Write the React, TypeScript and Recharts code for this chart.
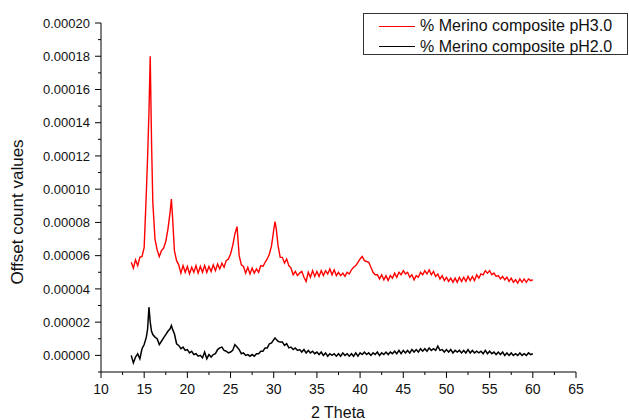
import React from 'react';
import { LineChart, Line, XAxis, YAxis } from 'recharts';

// values are in units of 1e-5 (offset counts)
const UNIT = 1e-5;

const twoTheta = [
  13.5, 13.75,
  14, 14.25, 14.5, 14.75,
  15, 15.25, 15.4, 15.55, 15.7, 15.85,
  16, 16.25, 16.5, 16.75,
  17, 17.25, 17.5, 17.75,
  18, 18.15, 18.3, 18.5, 18.75,
  19, 19.25, 19.5, 19.75,
  20, 20.25, 20.5, 20.75,
  21, 21.25, 21.5, 21.75,
  22, 22.25, 22.5, 22.75,
  23, 23.25, 23.5, 23.75,
  24, 24.25, 24.5, 24.75,
  25, 25.25, 25.5, 25.75,
  26, 26.25, 26.5, 26.75,
  27, 27.25, 27.5, 27.75,
  28, 28.25, 28.5, 28.75,
  29, 29.25, 29.5, 29.75,
  30, 30.15, 30.3, 30.5, 30.75,
  31, 31.25, 31.5, 31.75,
  32, 32.25, 32.5, 32.75,
  33, 33.25, 33.5, 33.75,
  34, 34.25, 34.5, 34.75,
  35, 35.25, 35.5, 35.75,
  36, 36.25, 36.5, 36.75,
  37, 37.25, 37.5, 37.75,
  38, 38.25, 38.5, 38.75,
  39, 39.25, 39.5, 39.75,
  40, 40.25, 40.5, 40.75,
  41, 41.25, 41.5, 41.75,
  42, 42.25, 42.5, 42.75,
  43, 43.25, 43.5, 43.75,
  44, 44.25, 44.5, 44.75,
  45, 45.25, 45.5, 45.75,
  46, 46.25, 46.5, 46.75,
  47, 47.25, 47.5, 47.75,
  48, 48.25, 48.5, 48.75,
  49, 49.25, 49.5, 49.75,
  50, 50.25, 50.5, 50.75,
  51, 51.25, 51.5, 51.75,
  52, 52.25, 52.5, 52.75,
  53, 53.25, 53.5, 53.75,
  54, 54.25, 54.5, 54.75,
  55, 55.25, 55.5, 55.75,
  56, 56.25, 56.5, 56.75,
  57, 57.25, 57.5, 57.75,
  58, 58.25, 58.5, 58.75,
  59, 59.25, 59.5, 59.75,
  60,
];

const merinoPH30 = [
  5.6, 5.25,
  5.75, 5.4, 5.9, 5.95,
  6.5, 9.8, 12.0, 14.6, 18.0, 12.9,
  9.2, 7.0, 6.35, 5.95,
  6.3, 6.45, 6.85, 7.6,
  8.6, 9.4, 8.2, 6.3, 5.7,
  5.45, 4.95, 5.4, 5.0,
  5.35, 4.9, 5.3, 5.0,
  5.4, 4.95, 5.35, 5.0,
  5.4, 5.0, 5.35, 5.05,
  5.45, 5.1, 5.5, 5.2,
  5.55, 5.3, 5.7, 5.8,
  6.1, 6.6, 7.3, 7.75,
  6.0, 5.45, 5.35, 4.95,
  5.3, 4.9, 5.25, 4.95,
  5.2, 5.0, 5.4, 5.35,
  5.6, 5.8, 6.1, 6.6,
  7.55, 8.05, 7.6, 6.6, 5.9,
  5.9, 5.55, 5.8, 5.4,
  5.25, 4.85, 5.05, 4.8,
  4.95, 5.05, 4.7, 4.45,
  5.0, 4.7, 5.1, 4.75,
  5.05, 4.75, 5.1, 4.8,
  5.1, 4.9, 5.2, 4.85,
  5.15, 4.8, 5.0, 4.8,
  4.95, 4.75, 5.0, 4.9,
  5.15, 5.3, 5.4, 5.6,
  5.8, 5.95, 5.7, 5.65,
  5.6, 5.3, 5.0, 4.85,
  4.85, 4.6, 4.85, 4.55,
  4.8, 4.5, 4.8, 4.65,
  4.95, 4.7, 5.0, 4.85,
  5.1, 4.9, 5.0, 4.7,
  4.85, 4.55, 4.8, 4.7,
  5.0, 4.85, 5.1, 4.9,
  5.15, 4.85, 5.05, 4.75,
  4.9, 4.6, 4.8, 4.5,
  4.7, 4.45, 4.65, 4.4,
  4.65, 4.4, 4.7, 4.45,
  4.7, 4.45, 4.75, 4.5,
  4.75, 4.5, 4.85, 4.65,
  4.9, 4.85, 5.1, 4.95,
  5.1, 4.85, 4.95, 4.75,
  4.8, 4.6, 4.75, 4.55,
  4.7, 4.45, 4.65, 4.4,
  4.55, 4.35, 4.6, 4.4,
  4.6, 4.4, 4.6, 4.5,
  4.55,
];

const merinoPH20 = [
  0.0, -0.45,
  -0.1, 0.1, -0.2, 0.4,
  0.65, 1.1, 1.6, 2.9, 2.0, 1.45,
  1.25, 1.1, 1.0, 0.65,
  0.85, 1.05, 1.25, 1.45,
  1.6, 1.8, 1.55, 1.3, 0.7,
  0.6, 0.4, 0.5, 0.3,
  0.35, 0.15, 0.25, 0.05,
  0.1, -0.05, 0.0, -0.15,
  0.2, -0.2, 0.05, -0.1,
  0.05, 0.1, 0.35, 0.45,
  0.5, 0.3, 0.25, 0.15,
  0.2, 0.3, 0.65, 0.5,
  0.35, 0.1, 0.15, 0.0,
  0.05, -0.05, 0.05, -0.05,
  0.1, 0.1, 0.25, 0.25,
  0.45, 0.45, 0.7, 0.75,
  0.95, 1.05, 0.95, 0.85, 0.8,
  0.8, 0.6, 0.7, 0.45,
  0.5, 0.35, 0.45, 0.3,
  0.35, 0.2, 0.35, 0.15,
  0.3, 0.15, 0.25, 0.1,
  0.2, 0.05, 0.2, 0.0,
  0.15, -0.05, 0.1, 0.0,
  0.1, -0.05, 0.1, -0.05,
  0.15, 0.0, 0.1, -0.05,
  0.1, -0.05, 0.15, -0.05,
  0.15, 0.05, 0.2, 0.05,
  0.15, 0.0, 0.15, 0.05,
  0.2, 0.0, 0.15, 0.05,
  0.2, 0.05, 0.2, 0.1,
  0.25, 0.1, 0.3, 0.1,
  0.3, 0.15, 0.3, 0.15,
  0.35, 0.2, 0.35, 0.2,
  0.4, 0.25, 0.4, 0.25,
  0.45, 0.3, 0.4, 0.3,
  0.55, 0.3, 0.35, 0.2,
  0.35, 0.2, 0.35, 0.15,
  0.3, 0.2, 0.3, 0.15,
  0.3, 0.15, 0.35, 0.15,
  0.3, 0.15, 0.25, 0.15,
  0.25, 0.1, 0.3, 0.1,
  0.25, 0.1, 0.2, 0.05,
  0.2, 0.05, 0.2, 0.0,
  0.15, 0.0, 0.15, 0.0,
  0.1, 0.0, 0.15, 0.0,
  0.1, 0.0, 0.15, 0.05,
  0.1,
];

const xTicks = [10, 12.5, 15, 17.5, 20, 22.5, 25, 27.5, 30, 32.5, 35, 37.5, 40, 42.5, 45, 47.5, 50, 52.5, 55, 57.5, 60, 62.5, 65];
const yTicks = [-1, 0, 1, 2, 3, 4, 5, 6, 7, 8, 9, 10, 11, 12, 13, 14, 15, 16, 17, 18, 19, 20];

const seriesNames = ['% Merino composite pH3.0', '% Merino composite pH2.0'];
const seriesColors = ['#ff0000', '#000000'];

const data = twoTheta.map((t, i) => ({ t, ph3: merinoPH30[i], ph2: merinoPH20[i] }));

const FONT = '"Liberation Sans", Arial, sans-serif';

const XTick = (props: any) => {
  const { x, y, payload } = props;
  const major = payload.value % 5 === 0;
  return (
    <g>
      <line x1={x} y1={y} x2={x} y2={y + (major ? 6 : 3)} stroke="#000" />
      {major && (
        <text x={x} y={y + 22} textAnchor="middle" fontSize={14} fontFamily={FONT} fill="#111">
          {payload.value}
        </text>
      )}
    </g>
  );
};

const YTick = (props: any) => {
  const { x, y, payload } = props;
  const major = payload.value % 2 === 0 && payload.value >= 0;
  return (
    <g>
      <line x1={x - (major ? 6 : 3)} y1={y} x2={x} y2={y} stroke="#000" />
      {major && (
        <text x={x - 11} y={y} dy="0.36em" textAnchor="end" fontSize={13} fontFamily={FONT} fill="#111">
          {(payload.value * UNIT).toFixed(5)}
        </text>
      )}
    </g>
  );
};

export default function App() {
  return (
    <div style={{ position: 'absolute', left: 0, top: 0, width: 629, height: 420, background: '#fff', fontFamily: FONT }}>
      <LineChart width={629} height={420} data={data} margin={{ top: 23, right: 53, bottom: 18, left: 31 }}>
        <XAxis
          dataKey="t"
          type="number"
          domain={[10, 65]}
          ticks={xTicks}
          interval={0}
          allowDataOverflow
          height={30}
          tickLine={false}
          tickSize={0}
          tickMargin={0}
          tick={<XTick />}
          axisLine={{ stroke: '#000' }}
        />
        <YAxis
          type="number"
          domain={[-1, 20]}
          ticks={yTicks}
          interval={0}
          allowDataOverflow
          width={70}
          tickLine={false}
          tickSize={0}
          tickMargin={0}
          tick={<YTick />}
          axisLine={{ stroke: '#000' }}
        />
        <Line type="linear" dataKey="ph3" name={seriesNames[0]} stroke={seriesColors[0]} strokeWidth={1.4} dot={false} isAnimationActive={false} />
        <Line type="linear" dataKey="ph2" name={seriesNames[1]} stroke={seriesColors[1]} strokeWidth={1.5} dot={false} isAnimationActive={false} />
      </LineChart>

      <div
        style={{
          position: 'absolute', left: 18, top: 212,
          transform: 'translate(-50%, -50%) rotate(-90deg)',
          whiteSpace: 'nowrap', fontSize: 17, color: '#111',
        }}
      >
        Offset count values
      </div>
      <div
        style={{
          position: 'absolute', left: 338, top: 413,
          transform: 'translate(-50%, -50%)',
          whiteSpace: 'nowrap', fontSize: 16, color: '#111',
        }}
      >
        2 Theta
      </div>

      <div
        style={{
          position: 'absolute', left: 363, top: 13, width: 265, height: 42,
          boxSizing: 'border-box', border: '1px solid #333', background: '#fff',
        }}
      >
        {seriesNames.map((name, i) => (
          <div
            key={name}
            style={{
              position: 'absolute', left: 0, top: 2 + i * 20.7, height: 20,
              display: 'flex', alignItems: 'center', whiteSpace: 'nowrap',
            }}
          >
            <div style={{ width: 36, marginLeft: 15, borderTop: `1px solid ${seriesColors[i]}` }} />
            <span style={{ marginLeft: 5, fontSize: 16, color: '#111' }}>{name}</span>
          </div>
        ))}
      </div>
    </div>
  );
}
